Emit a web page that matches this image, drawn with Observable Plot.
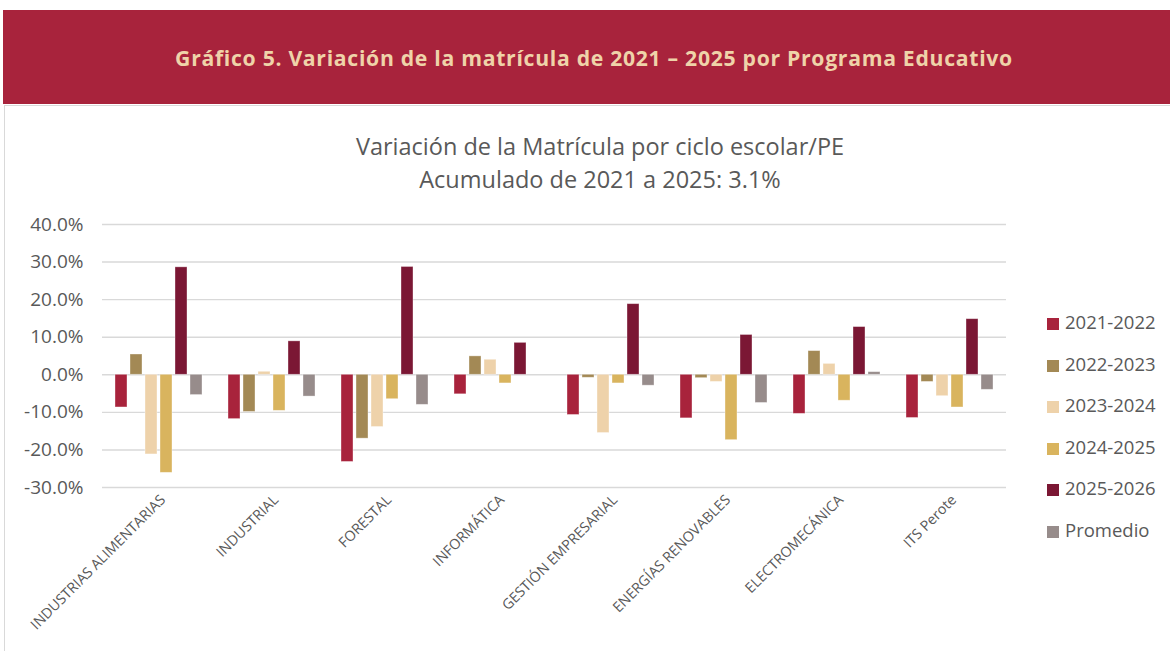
<!DOCTYPE html>
<html>
<head>
<meta charset="utf-8">
<script src="https://cdn.jsdelivr.net/npm/d3@7"></script>
<script src="https://cdn.jsdelivr.net/npm/@observablehq/plot@0.6"></script>
<style>
  html, body { margin: 0; padding: 0; background: #fff; }
  #wrap { position: relative; width: 1170px; height: 651px; overflow: hidden; font-family: "Open Sans", sans-serif; }
  #band { position: absolute; left: 3px; top: 10px; width: 1167px; height: 94px; background: #A8233C; }
  #band h1 { margin: 0; position: absolute; left: 15px; right: 0; top: 34px; text-align: center; font-family: "Open Sans", sans-serif; font-weight: 700; font-size: 21.2px; letter-spacing: 0.7px; color: #EFD3A9; line-height: 28px; white-space: nowrap; }
  #box { position: absolute; left: 4px; top: 105px; width: 1180px; height: 600px; border-left: 1px solid #D9D9D9; border-top: 1px solid #D9D9D9; }
  #ctitle { position: absolute; left: 0; width: 1200px; top: 130px; text-align: center; color: #595959; font-family: "Open Sans", sans-serif; font-size: 23.5px; line-height: 33px; }
  #chart { position: absolute; left: 0; top: 200px; }
  #legend { position: absolute; left: 1047px; top: 310px; font-family: "Open Sans", sans-serif; font-size: 18.5px; color: #595959; }
  #legend .item { position: relative; height: 41.6px; line-height: 24px; white-space: nowrap; }
  #legend .sw { display: inline-block; width: 12px; height: 12px; margin-right: 6px; vertical-align: -1px; }
</style>
</head>
<body>
<div id="wrap">
  <div id="band"><h1>Gráfico 5. Variación de la matrícula de 2021 – 2025 por Programa Educativo</h1></div>
  <div id="box"></div>
  <div id="ctitle">Variación de la Matrícula por ciclo escolar/PE<br>Acumulado de 2021 a 2025: 3.1%</div>
  <div id="chart"></div>
  <div id="legend"></div>
</div>
<script>
const categories = ["INDUSTRIAS ALIMENTARIAS", "INDUSTRIAL", "FORESTAL", "INFORMÁTICA", "GESTIÓN EMPRESARIAL", "ENERGÍAS RENOVABLES", "ELECTROMECÁNICA", "ITS Perote"];
const series = ["2021-2022", "2022-2023", "2023-2024", "2024-2025", "2025-2026", "Promedio"];
const colors = ["#A8233C", "#A38955", "#EED2AA", "#D9B45E", "#7B1734", "#978C8B"];
const v2021_2022 = [-8.7, -11.8, -23.2, -5.2, -10.7, -11.6, -10.4, -11.5];
const v2022_2023 = [5.4, -9.9, -17.0, 4.9, -0.8, -0.9, 6.3, -1.9];
const v2023_2024 = [-21.2, 0.8, -13.9, 4.0, -15.5, -1.9, 2.9, -5.7];
const v2024_2025 = [-26.1, -9.6, -6.5, -2.3, -2.3, -17.4, -6.9, -8.7];
const v2025_2026 = [28.6, 8.9, 28.7, 8.5, 18.8, 10.6, 12.7, 14.8];
const vPromedio = [-5.4, -5.8, -8.0, 0.0, -2.9, -7.5, 0.7, -4.0];
const yTicks = [-30, -20, -10, 0, 10, 20, 30, 40];

const seriesValues = [v2021_2022, v2022_2023, v2023_2024, v2024_2025, v2025_2026, vPromedio];
const data = [];
categories.forEach((c, i) => {
  series.forEach((s, j) => data.push({cat: c, series: s, value: seriesValues[j][i]}));
});

const chart = Plot.plot({
  width: 1040,
  height: 451,
  marginLeft: 101,
  marginRight: 34,
  marginTop: 24,
  marginBottom: 164,
  style: {fontFamily: "'Open Sans', sans-serif", color: "#595959", background: "transparent"},
  fx: {domain: categories, padding: 0, axis: null, label: null},
  x: {domain: series, paddingInner: 0.2, paddingOuter: 0.8, axis: null, label: null},
  y: {domain: [-30, 40], axis: null, label: null},
  color: {domain: series, range: colors},
  marks: [
    Plot.gridY(yTicks, {stroke: "#D9D9D9", strokeOpacity: 1, strokeWidth: 1.4}),
    Plot.barY(data, {fx: "cat", x: "series", y: "value", fill: "series", stroke: "white", strokeOpacity: 0.45, strokeWidth: 0.8}),
    Plot.axisY(yTicks, {anchor: "left", label: null, tickSize: 0, tickPadding: 19, fontSize: 19, fill: "#595959", tickFormat: d => d.toFixed(1) + "%"}),
    Plot.axisFx({anchor: "bottom", label: null, tickRotate: -45, tickSize: 0, tickPadding: 10, fontSize: 14.3, fill: "#595959", dx: 4})
  ]
});
document.getElementById("chart").appendChild(chart);

const legend = document.getElementById("legend");
series.forEach((s, j) => {
  const item = document.createElement("div");
  item.className = "item";
  const sw = document.createElement("span");
  sw.className = "sw";
  sw.style.background = colors[j];
  item.appendChild(sw);
  item.appendChild(document.createTextNode(s));
  legend.appendChild(item);
});
</script>
</body>
</html>
